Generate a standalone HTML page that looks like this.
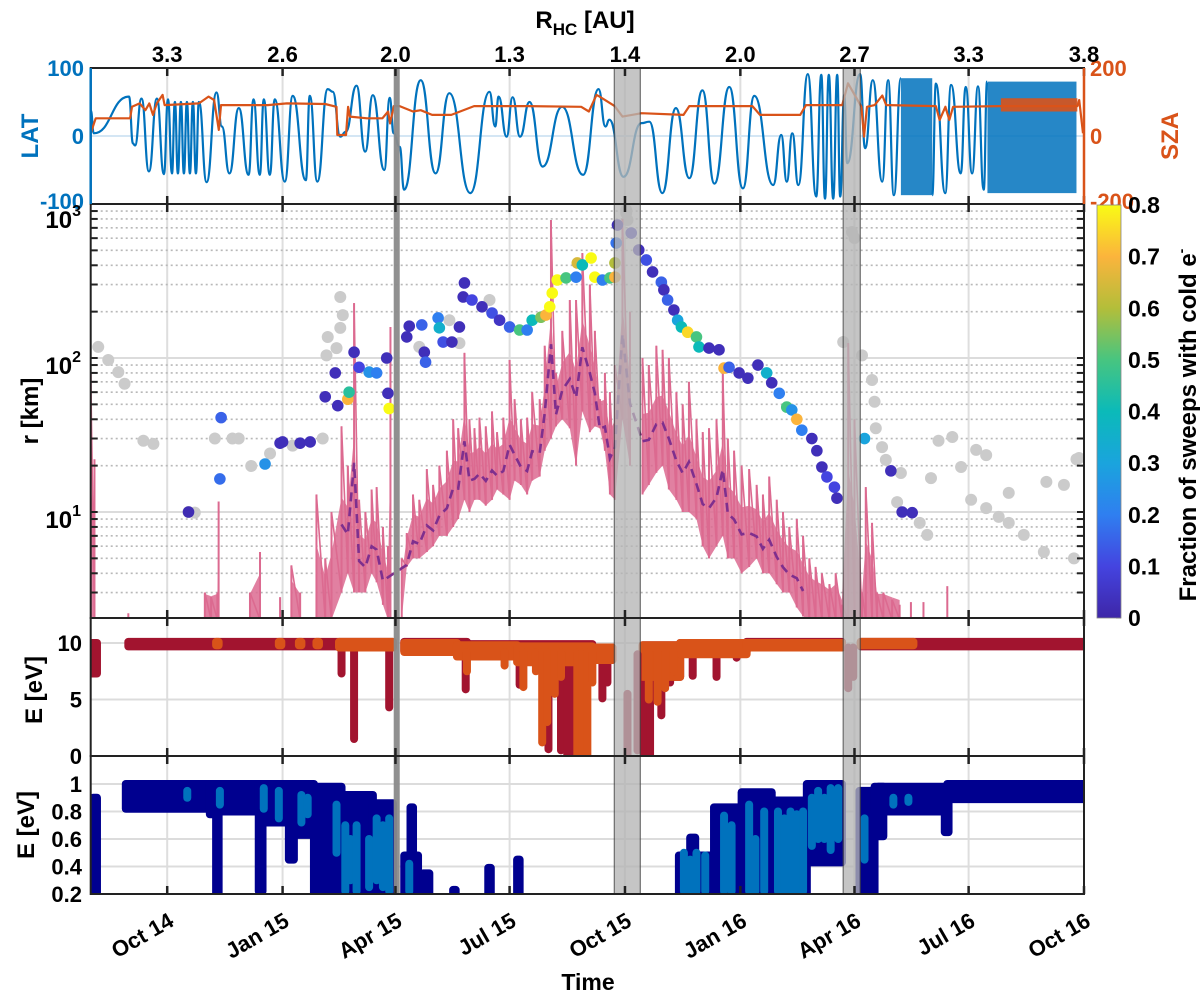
<!DOCTYPE html>
<html><head><meta charset="utf-8"><style>
html,body{margin:0;padding:0;background:#fff;}
svg{display:block;font-family:"Liberation Sans",Arial,sans-serif;font-weight:bold;}
</style></head><body>
<svg id="chart" width="1200" height="996" viewBox="0 0 1200 996" xmlns="http://www.w3.org/2000/svg">
<defs>
<clipPath id="clipTop"><rect x="90.7" y="68" width="993.3" height="136"/></clipPath>
<clipPath id="clipMain"><rect x="90.7" y="204" width="993.3" height="414"/></clipPath>
<clipPath id="clipE3"><rect x="90.7" y="618" width="993.3" height="138"/></clipPath>
<clipPath id="clipE4"><rect x="90.7" y="756" width="993.3" height="138"/></clipPath>
<linearGradient id="parula" x1="0" y1="1" x2="0" y2="0">
<stop offset="0" stop-color="#3e26a8"/><stop offset="0.125" stop-color="#4444e0"/><stop offset="0.25" stop-color="#2f7ff0"/><stop offset="0.375" stop-color="#1aa4dd"/><stop offset="0.5" stop-color="#0bbab9"/><stop offset="0.625" stop-color="#47c580"/><stop offset="0.75" stop-color="#b3be3a"/><stop offset="0.875" stop-color="#fbb43c"/><stop offset="1" stop-color="#f9fb15"/>
</linearGradient>
</defs>
<g id="grid"></g>
<g id="dataTop" clip-path="url(#clipTop)"></g>
<g id="dataMain" clip-path="url(#clipMain)"></g>
<g id="dataE3" clip-path="url(#clipE3)"></g>
<g id="dataE4" clip-path="url(#clipE4)"></g>
<g id="bands"></g>
<g id="axes"></g>

<text x="585" y="28" font-size="24" text-anchor="middle">R<tspan font-size="17" dy="7">HC</tspan><tspan dy="-7"> [AU]</tspan></text>
<text transform="translate(38,136) rotate(-90)" font-size="24" fill="#0072bd" text-anchor="middle">LAT</text>
<text transform="translate(1178,136) rotate(-90)" font-size="24" fill="#d95319" text-anchor="middle">SZA</text>
<text transform="translate(38,411) rotate(-90)" font-size="24" text-anchor="middle">r [km]</text>
<text transform="translate(42,690) rotate(-90)" font-size="24" text-anchor="middle">E [eV]</text>
<text transform="translate(34,825) rotate(-90)" font-size="24" text-anchor="middle">E [eV]</text>
<text x="588" y="990" font-size="23" text-anchor="middle">Time</text>
<rect x="1097" y="205" width="24" height="413" fill="url(#parula)" stroke="#888" stroke-width="0.8"/>
<text transform="translate(1196,425) rotate(-90)" font-size="24" text-anchor="middle">Fraction of sweeps with cold e<tspan font-size="14" dy="-10">-</tspan></text>
</svg>
<script>
// ---------- data ----------
const tickDays=[61,153,243,334,426,518,609,700,792];
const tickLabels=['Oct 14','Jan 15','Apr 15','Jul 15','Oct 15','Jan 16','Apr 16','Jul 16','Oct 16'];
const rhcLabels=['3.3','2.6','2.0','1.3','1.4','2.0','2.7','3.3','3.8'];
const bandStart=[241.6,417.5,600];
const bandEnd=[246.4,438.2,613.6];
const latDays=[0,2.5,30.5,33.7,35.3,40.5,46.4,52.8,58.4,61.6,64.8,67.1,69.5,71.9,74.3,76.7,79.1,81.5,83.9,86.3,92.4,100.3,104.6,110.6,118.1,125.9,129.8,134.8,138,142.8,146.8,154.8,161.1,171.5,174.7,180.7,189,193,199,203.3,211.9,218.9,224.9,234.1,238.4,241.6,246.4,249.9,263.1,275,285.9,302.7,318,322.5,325.2,331.6,336.4,342.3,349.9,360.3,375.9,392.6,404.9,410.4,413.6,424.8,439.1,445.5,455.8,466.6,477.3,487.7,497.3,509.2,520,529.1,544.2,550.6,555,559.4,564.2,571.8,578.5,582.5,585.5,588.5,592,595.2,597.6,600.8,603.2,613.5,617.5,623.6,631.1,635.8,640.4,646];
const latVals=[38,4,58,-11,-14,55,-52,55,-56,54,-55,50,-55,50,-55,50,-55,50,-55,50,-68,64,14,-55,41,-57,54,-57,54,-57,54,-67,59,-65,59,-67,69,65,-1,6,74,-23,60,-50,56,4,-16,-79,82,-55,63,-84,65,14,58,-1,57,-1,50,-45,43,-57,69,14,24,-60,19,21,-84,41,-62,67,-70,72,-77,59,-72,1.5,-67,4,-72,91,-89,90,-92,90,-92,90,-89,60,-40,91,-18,82,-67,82,-87,85];
const lat2Days=[671,673.9,681.3,686,693.7,697.7,702.8,707.5,712,714.7];
const lat2Vals=[-87,77,-84,75,-55,72,-55,73,-79,80];
const latBlockStart=[646,715];
const latBlockEnd=[671,786];
const latBlockMax=[85,80];
const latBlockMin=[-87,-84];
const szaDays=[0,4,31.4,32.9,39,43.6,46.7,49.7,52.7,57.3,58.9,86.3,93.9,98.4,102.1,103.9,141.1,156.4,186.9,196,196.6,203.6,205.2,206.7,220.4,232.6,237.1,238.7,241.7,246.3,257,263.1,272.2,287.5,305.7,348.4,391.1,397.2,403.3,405.7,417.8,424,439.2,472.7,477.3,527.6,533.7,565.7,570.3,599.2,603.8,609.9,614.5,616.6,619,625.1,631.2,634.3,673.9,676.9,681.5,684.6,687.6,725.7,786.7,788.2,791.2];
const szaVals=[8,52,52,86,96,76,96,62,96,121,91,96,116,106,18,91,91,96,94,86,3,3,86,57,52,52,72,37,88,88,72,76,62,62,88,88,86,72,121,116,88,57,67,62,88,88,62,62,91,91,155,116,86,-2,86,91,119,91,88,47,86,47,86,88,88,106,8];
const szaBlockStart=[725.7];
const szaBlockEnd=[786.7];
const szaBlockMax=[111];
const szaBlockMin=[72];
// cold-electron scatter: day, radius km, fraction
const coldDays=[104,103,78,139,151,167,153,175,187,195,197,205,206,210,214,222,228,236,237,238,252,254,264,266,267,277,278,281,288,294,298,297,304,312,320,326,334,342,348,352,359,363,366,368,372,379,387,388,392,399,402,408,414,418,418,419,420,431,437,443,448,455,457,460,465,468,471,476,483,485,493,501,505,509,517,524,532,539,543,549,555,559,563,567,575,579,583,587,593,595,617,638,647,655];
const coldR=[41,16.4,10,20.5,28,28,28.5,28.5,56,80,49,54,60,109,87,81,80,100,59,47,137,161,164,109,94,182,157,127,127,159,307,249,238,215,196,176,159,152,152,176,184,190,215,264,321,331,335,414,402,446,335,321,331,335,414,558,730,648,503,433,362,311,277,238,205,176,159,147,137,118,116,113,86,87,80,74,90,80,69,59,48,46,40,34,30,25,19.6,16.9,14.5,12.3,30,18.5,10,9.9];
const coldFrac=[0.15,0.17,0.02,0.25,0.03,0.03,0.03,0.03,0.03,0.03,0.03,0.7,0.45,0.03,0.1,0.25,0.2,0.03,0.03,0.8,0.03,0.03,0.15,0.03,0.15,0.2,0.35,0.12,0.03,0.03,0.03,0.03,0.1,0.03,0.12,0.05,0.15,0.5,0.2,0.4,0.55,0.7,0.8,0.8,0.8,0.5,0.2,0.65,0.4,0.8,0.8,0.2,0.5,0.7,0.6,0.18,0.03,0.05,0.03,0.12,0.03,0.15,0.03,0.15,0.03,0.3,0.4,0.75,0.5,0.4,0.03,0.03,0.7,0.15,0.03,0.03,0.03,0.35,0.03,0.2,0.5,0.25,0.7,0.2,0.03,0.03,0.03,0.1,0.1,0.03,0.3,0.03,0.03,0.03];
// no-cold-electron points (gray)
const grayDays=[6,14,22,27,42,50,78,83,99,113,118,128,143,161,199,201,199,189,188,196,185,262,286,294,318,427,428,427,600,607,609,615,623,625,626,631,634,646,643,661,667,670,676,687,694,706,714,702,714,724,732,732,744,760,762,776,784,788,786];
const grayR=[118,97,81,68,29,27.7,10,9.9,30,30,30,19.9,24,27,249,190,157,137,104,116,30,118,176,125,238,914,787,874,127,658,601,104,72,52,35,26.4,21.8,17.9,11.6,8.5,7.1,16.6,29,30.7,19.6,25.3,23.4,12,10.6,9.3,13.3,8.5,7.1,5.5,15.7,15,5.0,22.4,22];
// pink radius series (envelope per sample)
const pinkDays=[0,3,30,91,96,101,102,127,135,151,160,167,180,187,192,200,205,210,214,219,224,228,233,237,239,248,252,257,262,268,273,278,284,289,293,298,302,306,310,315,320,324,329,334,338,343,348,352,358,362,367,371,376,382,387,392,398,402,406,410,414,418,424,430,440,445,451,456,461,467,472,477,483,488,493,499,504,508,513,519,525,531,536,541,547,552,557,563,568,573,578,583,589,594,599,604,609,615,618,623,627,632,639,645,654,664,683];
const pinkLo=[2,2,2,2,2,2,2,2,2,2,2,2,2,2,2,3,4,3,3,3,4,3.5,2.5,2,2,2,4.4,5,5,5.5,6,7,7,8,9,12,10,12,12,11,12,14,13,12,16,15,13,16,17,25,30,36,40,35,20,45,33,36,35,25,13,12,40,20,13,15,18,20,14,12,10,10,9,6,5,6,7,5,5,4,4.4,5,4,4,3.4,3,3,2.4,2.1,2,2,2,2,2,2,2,2,2,2,2,2,2,2,2,2,2,2];
const pinkHi=[80,22,2.2,3,2.8,3,11.7,3,5.5,2.8,4.5,3,13,5,10,36,20,227,12,10,14,14.5,8,6,159,5,7.3,13,12,19,15,20,25,40,35,108,40,35,41,36,45,33,41,97,54,40,41,60,54,120,787,80,150,238,238,480,300,150,54,80,60,90,800,200,100,90,120,113,100,60,50,70,40,33,35,40,80,30,25,20,19,15,13,17,12,10,8,9,7,5,4.4,4,3.4,4,2.5,125,40,3,14.5,8.5,3,3,2.7,2.5,2.6,2.6,3.3];
// E panel (10 eV): baseline bands [start,end,min,max] + spikes [day,min]
const redStart=[0,30,250,300,403,440,470,523,614];
const redEnd=[5,241,300,400,416,470,523,599,792];
const redMin=[7.3,9.7,9.3,8.8,8.5,7.0,9.2,9.6,9.7];
const redMax=[10,10.1,10.1,9.9,9.6,9.8,10,10.1,10.1];
const redSpikeDays=[200,210,238,299,342,365,375,380,385,390,395,408,412,441,446,455,462,480,499,515];
const redSpikeMin=[7.3,1.5,4.3,5.9,6.3,0.6,0.5,0,0,0,2,5.1,6.5,0,0,3.6,6.5,7.1,7,8.7];
const mauveSpikeDays=[428,436,604,608];
const mauveSpikeMin=[0,0.5,6,7];
const mauveSpikeMax=[5.5,9,9.6,9.6];
const orangeStart=[100,150,166,180,198,250,292,340,403,440,470,523,614];
const orangeEnd=[102,152,168,182,241,292,340,400,416,470,523,599,656];
const orangeMin=[9.8,9.8,9.8,9.8,9.6,9.2,8.8,8.3,8.5,7.0,9.0,9.6,9.8];
const orangeMax=[10.1,10.1,10.1,10.1,10.1,10,9.8,9.7,9.6,9.8,10,10,10.1];
const orangeSpikeDays=[300,330,345,355,360,364,370,375,388,392,396,400,445,452,458,465];
const orangeSpikeMin=[7.5,8,6.1,7.5,1.2,3,5.5,7,0,0,0,6.5,5,4.8,6,7.5];
// E panel (1 eV)
const navyStart=[2,28,95,100,102,134,137,158,162,178,200,225,250,255,265,289,317,340,469,478,497,519,545,571,613,625,628,681,683];
const navyEnd=[5,95,100,102,134,137,158,162,178,200,225,241,261,257,270,291,319,342,495,482,516,543,571,599,625,683,632,684,793];
const navyMin=[0.2,0.82,0.78,0.2,0.8,0.22,0.72,0.45,0.63,0.2,0.2,0.2,0.2,0.2,0.2,0.2,0.2,0.2,0.2,0.2,0.2,0.2,0.2,0.43,0.2,0.8,0.62,0.65,0.89];
const navyMax=[0.9,1.0,1.0,1.0,1.0,1.0,1.0,1.0,1.0,0.98,0.92,0.86,0.48,0.83,0.35,0.23,0.39,0.45,0.48,0.61,0.83,0.94,0.88,1.0,0.95,0.98,0.98,0.95,1.0];
const lightDays=[77,103,138,150,168,173,196,203,207,212,222,228,233,238,254,473,478,483,490,505,511,525,530,537,548,553,558,563,568,575,580,585,590,596,617,640,652];
const lightMin=[0.9,0.85,0.82,0.75,0.72,0.78,0.5,0.22,0.3,0.22,0.25,0.3,0.25,0.22,0.22,0.22,0.22,0.22,0.22,0.22,0.22,0.22,0.22,0.22,0.22,0.22,0.22,0.22,0.22,0.55,0.6,0.6,0.52,0.6,0.45,0.85,0.87];
const lightMax=[0.95,0.95,0.97,0.95,0.92,0.9,0.85,0.7,0.6,0.7,0.6,0.75,0.7,0.75,0.42,0.5,0.45,0.5,0.48,0.77,0.7,0.85,0.6,0.8,0.8,0.75,0.8,0.78,0.8,0.9,0.95,0.9,0.97,0.97,0.75,0.9,0.9];
const cbTicks=[0,0.1,0.2,0.3,0.4,0.5,0.6,0.7,0.8];

// ---------- scales ----------
const X0=90.7,X1=1084,DMAX=792;
function xs(d){return X0+d*(X1-X0)/DMAX;}
function yLat(v){return 136-v*0.68;}
function ySza(v){return 136-v*0.34;}
function yR(r){return 204+(3-Math.log10(r))*154;}
function yE3(e){return 756-e*11.3;}
function yE4(e){return 894-(e-0.2)*137.5;}
const NS='http://www.w3.org/2000/svg';
function mk(tag,attrs,parent){const el=document.createElementNS(NS,tag);for(const k in attrs)el.setAttribute(k,attrs[k]);parent.appendChild(el);return el;}
const stops=[[0,[62,38,168]],[0.1,[68,68,224]],[0.2,[47,127,240]],[0.3,[26,164,221]],[0.4,[11,186,185]],[0.5,[71,197,128]],[0.6,[179,190,58]],[0.7,[251,180,60]],[0.8,[249,251,21]]];
function cmap(v){v=Math.max(0,Math.min(0.8,v));for(let i=1;i<stops.length;i++){if(v<=stops[i][0]){const a=stops[i-1],b=stops[i],t=(v-a[0])/(b[0]-a[0]);const c=a[1].map((q,j)=>Math.round(q+(b[1][j]-q)*t));return 'rgb('+c.join(',')+')';}}return 'rgb(249,251,21)';}

const grid=document.getElementById('grid'),gT=document.getElementById('dataTop'),gM=document.getElementById('dataMain'),g3=document.getElementById('dataE3'),g4=document.getElementById('dataE4'),gB=document.getElementById('bands'),gA=document.getElementById('axes');

// ---------- grid ----------
const panels=[[68,204],[204,618],[618,756],[756,894]];
tickDays.forEach(d=>{panels.forEach(p=>{const l=mk('line',{x1:xs(d),x2:xs(d),y1:p[0],y2:p[1],stroke:'#dedede','stroke-width':2},grid);

});});
{const l=mk('line',{x1:X0,x2:X1,y1:yLat(0),y2:yLat(0),stroke:'#d4e6f4','stroke-width':2},grid);

}
for(let dec=0;dec<3;dec++){for(let k=1;k<=9;k++){const v=k*Math.pow(10,dec);const y=yR(v);if(y>617||y<205)continue;
const major=(k===1);
const l=mk('line',{x1:X0,x2:X1,y1:y,y2:y,stroke:major?'#dcdcdc':'#b8b8b8','stroke-width':major?2:1.6,'stroke-dasharray':major?'none':'2 3'},grid);


[[X0,X0+7],[X1-7,X1]].forEach(s=>{const t=mk('line',{x1:s[0],x2:s[1],y1:y,y2:y,stroke:'#222','stroke-width':2},gA);

});}}
[0,5,10].forEach(v=>{const l=mk('line',{x1:X0,x2:X1,y1:yE3(v),y2:yE3(v),stroke:'#dcdcdc','stroke-width':2},grid);

});
[0.2,0.4,0.6,0.8,1.0].forEach(v=>{const l=mk('line',{x1:X0,x2:X1,y1:yE4(v),y2:yE4(v),stroke:'#dcdcdc','stroke-width':2},grid);

});

// ---------- top panel ----------
function curve(days,vals){let d='M'+xs(days[0]).toFixed(1)+','+yLat(vals[0]).toFixed(1);
for(let i=1;i<days.length;i++){const xa=xs(days[i-1]),xb=xs(days[i]),xm=(xa+xb)/2;d+=' C'+xm.toFixed(1)+','+yLat(vals[i-1]).toFixed(1)+' '+xm.toFixed(1)+','+yLat(vals[i]).toFixed(1)+' '+xb.toFixed(1)+','+yLat(vals[i]).toFixed(1);}return d;}
{const p=mk('path',{d:curve(latDays,latVals),fill:'none',stroke:'#0072bd','stroke-width':2.2},gT);


const p2=mk('path',{d:curve(lat2Days,lat2Vals),fill:'none',stroke:'#0072bd','stroke-width':2.2},gT);

}
latBlockStart.forEach((s,i)=>{const r=mk('rect',{x:xs(s),y:yLat(latBlockMax[i]),width:xs(latBlockEnd[i])-xs(s),height:yLat(latBlockMin[i])-yLat(latBlockMax[i]),fill:'#0072bd',opacity:0.85},gT);

});
{let pts=szaDays.map((d,i)=>xs(d).toFixed(1)+','+ySza(szaVals[i]).toFixed(1)).join(' ');
const pl=mk('polyline',{points:pts,fill:'none',stroke:'#d95319','stroke-width':2.2,'stroke-linejoin':'round'},gT);

}
szaBlockStart.forEach((s,i)=>{const r=mk('rect',{x:xs(s),y:ySza(szaBlockMax[i]),width:xs(szaBlockEnd[i])-xs(s),height:ySza(szaBlockMin[i])-ySza(szaBlockMax[i]),fill:'#d95319',opacity:0.9},gT);

});

// ---------- main panel ----------
grayDays.forEach((d,i)=>{const c=mk('circle',{cx:xs(d),cy:yR(grayR[i]),r:6,fill:'#cbcbcb'},gM);

});
for(let i=1;i<pinkDays.length;i++){if(pinkDays[i]-pinkDays[i-1]>8)continue;
const a=Math.max(pinkLo[i-1],1.5),b=Math.max(pinkLo[i],1.5);
const ha=Math.sqrt(pinkHi[i-1]*a)*1.2,hb=Math.sqrt(pinkHi[i]*b)*1.2;
const pts=[xs(pinkDays[i-1])+','+yR(ha),xs(pinkDays[i])+','+yR(hb),xs(pinkDays[i])+','+yR(b),xs(pinkDays[i-1])+','+yR(a)].join(' ');
const pg=mk('polygon',{points:pts,fill:'#dc6a90',opacity:0.85},gM);

}
pinkDays.forEach((d,i)=>{const lo=Math.max(pinkLo[i],1.5);const l=mk('line',{x1:xs(d),x2:xs(d),y1:yR(pinkHi[i]),y2:yR(lo),stroke:'#dc6a90','stroke-width':2},gM);

});
for(let i=1;i<pinkDays.length;i++){if(pinkDays[i]-pinkDays[i-1]>8)continue;
const l=mk('line',{x1:xs(pinkDays[i-1]),y1:yR(pinkHi[i-1]),x2:xs(pinkDays[i]),y2:yR(Math.max(pinkLo[i],1.5)),stroke:'#dc6a90','stroke-width':1.6},gM);

}
{let pts=[];pinkDays.forEach((d,i)=>{if(pinkLo[i]>2.05)pts.push(xs(d).toFixed(1)+','+yR(Math.sqrt(pinkLo[i]*pinkHi[i])*0.8).toFixed(1));});
const pl=mk('polyline',{points:pts.join(' '),fill:'none',stroke:'#7e2f8e','stroke-width':2.6,'stroke-dasharray':'9 6'},gM);

}
coldDays.forEach((d,i)=>{const c=mk('circle',{cx:xs(d),cy:yR(coldR[i]),r:5.8,fill:cmap(coldFrac[i])},gM);

});

// ---------- E panels ----------
function seg(g,yf,s,e,mn,mx,color,name){s.forEach((st,i)=>{const x=xs(st)-4,w=xs(e[i])-xs(st)+8,y=yf(mx[i])-4,h=yf(mn[i])-yf(mx[i])+8;
const r=mk('rect',{x:x,y:y,width:w,height:h,rx:4,fill:color},g);

});}
function spikes(g,yf,days,mn,mx,color,name){days.forEach((d,i)=>{const top=yf(mx[i])-4,bot=yf(mn[i])+4;
const r=mk('rect',{x:xs(d)-4,y:top,width:8,height:bot-top,rx:4,fill:color},g);

});}
seg(g3,yE3,redStart,redEnd,redMin,redMax,'#a2142f','e-red-series');
spikes(g3,yE3,redSpikeDays,redSpikeMin,redSpikeDays.map(()=>9.6),'#a2142f','e-red-spike');
seg(g3,yE3,orangeStart,orangeEnd,orangeMin,orangeMax,'#d95319','e-orange-series');
spikes(g3,yE3,orangeSpikeDays,orangeSpikeMin,orangeSpikeDays.map(()=>9.2),'#d95319','e-orange-spike');
spikes(g3,yE3,mauveSpikeDays,mauveSpikeMin,mauveSpikeMax,'#a2142f','e-red-spike-in-band');
seg(g4,yE4,navyStart,navyEnd,navyMin,navyMax,'#00008f','e-navy-series');
spikes(g4,yE4,lightDays,lightMin,lightMax,'#0072bd','e-lightblue-series');

// ---------- bands ----------
bandStart.forEach((s,i)=>{const narrow=(i===0);
const r=mk('rect',{x:xs(s),y:68,width:xs(bandEnd[i])-xs(s),height:826,fill:narrow?'#8a8a8a':'#b5b5b5',opacity:narrow?0.95:0.78,stroke:'#444','stroke-width':narrow?0:1.2},gB);

});

// ---------- axes frames & ticks ----------
panels.forEach((p,i)=>{const r=mk('rect',{x:X0,y:p[0],width:X1-X0,height:p[1]-p[0],fill:'none',stroke:'#222','stroke-width':2},gA);


tickDays.forEach(d=>{[[p[0],p[0]+8],[p[1]-8,p[1]]].forEach(s=>{const t=mk('line',{x1:xs(d),x2:xs(d),y1:s[0],y2:s[1],stroke:'#222','stroke-width':2.5},gA);

});});});
{const l=mk('line',{x1:X0,x2:X0,y1:68,y2:204,stroke:'#0072bd','stroke-width':2.5},gA);


const l2=mk('line',{x1:X1,x2:X1,y1:68,y2:204,stroke:'#d95319','stroke-width':2.5},gA);

}
function txt(x,y,s,attrs,name){const t=mk('text',Object.assign({x:x,y:y},attrs),gA);t.textContent=s;

return t;}
[[100,'100',8],[0,'0',8],[-100,'-100',5]].forEach(v=>txt(84,yLat(v[0])+v[2],v[1],{'font-size':22,'text-anchor':'end',fill:'#0072bd'},'lat-tick-label'));
[[200,'200',8],[0,'0',8],[-200,'-200',5]].forEach(v=>txt(1090,ySza(v[0])+v[2],v[1],{'font-size':22,fill:'#d95319'},'sza-tick-label'));
tickDays.forEach((d,i)=>{txt(xs(d),62,rhcLabels[i],{'font-size':22,'text-anchor':'middle'},'rhc-tick-label');
const t=mk('text',{transform:'translate('+(xs(d)+8)+',925) rotate(-30)','font-size':22,'text-anchor':'end'},gA);t.textContent=tickLabels[i];

});
[[1000,'3',24],[100,'2',16],[10,'1',16]].forEach(v=>{const t=mk('text',{x:81,y:yR(v[0])+v[2],'font-size':24,'text-anchor':'end'},gA);


const a=mk('tspan',{},t);a.textContent='10';const b=mk('tspan',{'font-size':16,dy:-12},t);b.textContent=v[1];});
[[10,'10'],[5,'5'],[0,'0']].forEach(v=>txt(82,yE3(v[0])+8,v[1],{'font-size':22,'text-anchor':'end'},'e-upper-tick-label'));
[[1,'1'],[0.8,'0.8'],[0.6,'0.6'],[0.4,'0.4'],[0.2,'0.2']].forEach(v=>txt(82,yE4(v[0])+8,v[1],{'font-size':22,'text-anchor':'end'},'e-lower-tick-label'));
cbTicks.forEach(v=>{const y=618-v/0.8*413;
const l=mk('line',{x1:1116,x2:1121,y1:y,y2:y,stroke:'#555','stroke-width':1},gA);


txt(1128,y+8,String(v),{'font-size':23},'colorbar-tick-label');});
</script>
</body></html>
